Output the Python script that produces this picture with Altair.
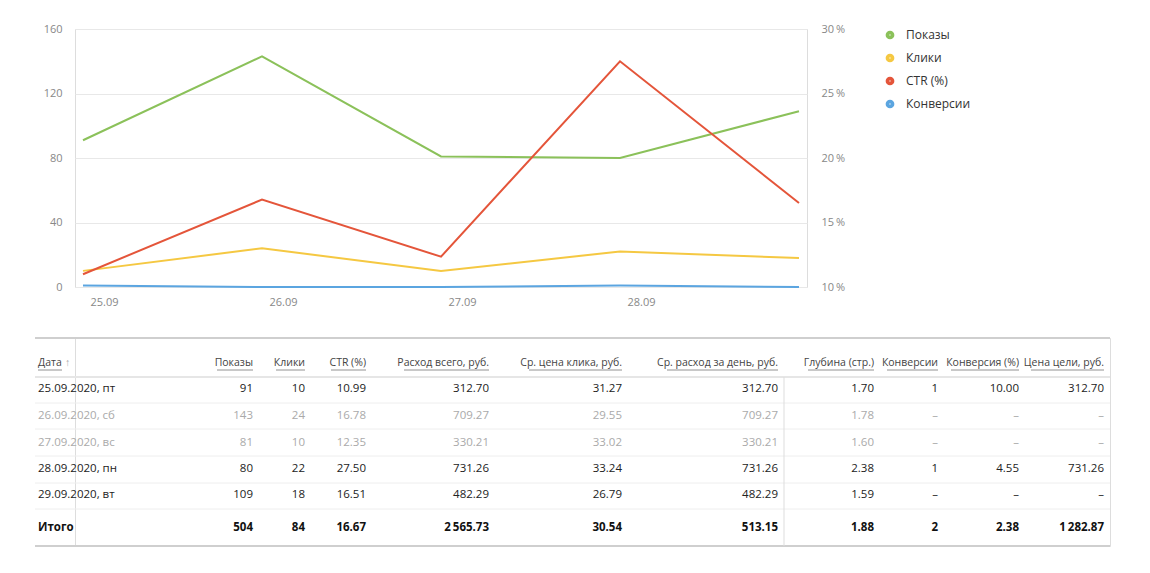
import altair as alt
import pandas as pd

# ---------------- data ----------------
days = ["25.09", "26.09", "27.09", "28.09", "29.09"]
shows = [91, 143, 81, 80, 109]
clicks = [10, 24, 10, 22, 18]
ctr = [10.99, 16.78, 12.35, 27.50, 16.51]
conversions = [1, 0, 0, 1, 0]

series_names = ["Показы", "Клики", "CTR (%)", "Конверсии"]
series_colors = ["#8bc15a", "#f5c842", "#e4553a", "#5ba5e0"]

row_dates = ["25.09.2020, пт", "26.09.2020, сб", "27.09.2020, вс",
             "28.09.2020, пн", "29.09.2020, вт"]
weekend = [False, True, True, False, False]
col_headers = ["Показы", "Клики", "CTR (%)", "Расход всего, руб.",
               "Ср. цена клика, руб.", "Ср. расход за день, руб.",
               "Глубина (стр.)", "Конверсии", "Конверсия (%)", "Цена цели, руб."]
spend = [312.70, 709.27, 330.21, 731.26, 482.29]
cpc = [31.27, 29.55, 33.02, 33.24, 26.79]
day_spend = [312.70, 709.27, 330.21, 731.26, 482.29]
depth = [1.70, 1.78, 1.60, 2.38, 1.59]
conv_table = [1, None, None, 1, None]
conv_rate = [10.00, None, None, 4.55, None]
goal_cost = [312.70, None, None, 731.26, None]
totals = [504, 84, 16.67, 2565.73, 30.54, 513.15, 1.88, 2, 2.38, 1282.87]
int_cols = [True, True, False, False, False, False, False, True, False, False]

# ---------------- layout (px, relative to table's left edge) ----------------
SHIFT = 40           # table starts this far left of the line chart's plot area
TW, TH = 1075, 208
date_x = 3
col_right = [218, 270, 331, 454, 587, 743, 839, 903, 984, 1069]
header_w = [36, 29, 35, 85, 93, 111, 66, 51, 68, 73]
header_y = 25
row_y = [51, 78, 105, 131, 157]
total_y = 190
thick_rules = [0, 208]
header_rule = 39
row_rules = [65, 91, 118, 145, 171]
vline_x = 749

FONT = "Open Sans"


def fmt(v, is_int):
    if v is None:
        return "–"
    if is_int:
        s = f"{int(v):,}"
    else:
        s = f"{v:,.2f}"
    return s.replace(",", "\u2009")


def sx(v):
    return v - SHIFT


# ---------------- top line chart ----------------
df_left = pd.DataFrame({
    "day": days * 3,
    "value": shows + clicks + conversions,
    "series": ["Показы"] * 5 + ["Клики"] * 5 + ["Конверсии"] * 5,
})
df_right = pd.DataFrame({"day": days, "ctr": ctr, "series": ["CTR (%)"] * 5})

color = alt.Color(
    "series:N",
    scale=alt.Scale(domain=series_names, range=series_colors),
    legend=alt.Legend(title=None, orient="right", symbolType="circle",
                      symbolSize=14, symbolStrokeWidth=5, labelFontSize=12,
                      labelColor="#333", rowPadding=-1, offset=37,
                      labelOffset=10, labelFont=FONT, padding=0),
)
xaxis = alt.Axis(values=days[:4], title=None, labelAngle=0, labelAlign="left",
                 labelOffset=7, domain=False, ticks=False, grid=False,
                 labelPadding=9, labelFontSize=11, labelColor="#888",
                 minExtent=25, maxExtent=25)
xenc = alt.X("day:O", sort=days, scale=alt.Scale(type="point", padding=0.0447),
             axis=xaxis)

left = alt.Chart(df_left).mark_line(strokeWidth=2).encode(
    x=xenc,
    y=alt.Y("value:Q", scale=alt.Scale(domain=[0, 160], nice=False),
            axis=alt.Axis(values=[0, 40, 80, 120, 160], title=None, grid=True,
                          domain=False, ticks=False, labelPadding=13,
                          gridColor="#e8e8e8", labelFontSize=11,
                          labelColor="#888", minExtent=40, maxExtent=40)),
    color=color,
)
right = alt.Chart(df_right).mark_line(strokeWidth=2).encode(
    x=xenc,
    y=alt.Y("ctr:Q", scale=alt.Scale(domain=[10, 30], nice=False, zero=False),
            axis=alt.Axis(orient="right", values=[10, 15, 20, 25, 30],
                          title=None, domain=False, ticks=False, grid=False,
                          labelExpr="datum.value + '\u2009%'", labelPadding=14,
                          labelFontSize=11, labelColor="#888",
                          minExtent=40, maxExtent=40)),
    color=color,
)
top = alt.layer(left, right).resolve_scale(y="independent").properties(
    width=732, height=258)

# ---------------- table ----------------
PW = TW - SHIFT
X = alt.X("x:Q", scale=alt.Scale(domain=[0, PW], nice=False, zero=False), axis=None)
X2 = alt.X2("x2:Q")
Y = alt.Y("y:Q", scale=alt.Scale(domain=[0, TH], reverse=True, nice=False, zero=False), axis=None)
Y2 = alt.Y2("y2:Q")
C = alt.Color("c:N", scale=None, legend=None)

hdr = pd.DataFrame({"x": [sx(v) for v in col_right], "y": [header_y] * 10,
                    "t": col_headers, "c": ["#444"] * 10})
hdr_date = pd.DataFrame({"x": [sx(date_x)], "y": [header_y], "t": ["Дата"], "c": ["#444"]})
hdr_arrow = pd.DataFrame({"x": [sx(date_x + 27)], "y": [header_y], "t": ["↑"], "c": ["#aaa"]})
ul = pd.DataFrame({
    "x": [sx(r - w) for r, w in zip(col_right, header_w)] + [sx(date_x)],
    "x2": [sx(r) for r in col_right] + [sx(date_x + 24)],
    "y": [header_y + 7] * 11,
})

columns = [shows, clicks, ctr, spend, cpc, day_spend, depth, conv_table, conv_rate, goal_cost]
body_rows = []
date_rows = []
for i, d in enumerate(row_dates):
    c = "#aaa" if weekend[i] else "#222"
    date_rows.append({"x": sx(date_x), "y": row_y[i], "t": d, "c": c})
    for j, col in enumerate(columns):
        body_rows.append({"x": sx(col_right[j]), "y": row_y[i],
                          "t": fmt(col[i], int_cols[j]), "c": c})
body = pd.DataFrame(body_rows)
body_dates = pd.DataFrame(date_rows)
tot = pd.DataFrame({"x": [sx(v) for v in col_right], "y": [total_y] * 10,
                    "t": [fmt(v, ic) for v, ic in zip(totals, int_cols)], "c": ["#111"] * 10})
tot_label = pd.DataFrame({"x": [sx(date_x)], "y": [total_y], "t": ["Итого"], "c": ["#111"]})

thick = pd.DataFrame({"x": [sx(0)] * 2, "x2": [sx(TW)] * 2, "y": thick_rules, "y2": thick_rules})
hrule = pd.DataFrame({"x": [sx(0)], "x2": [sx(TW)], "y": [header_rule], "y2": [header_rule]})
rrules = pd.DataFrame({"x": [sx(0)] * 5, "x2": [sx(TW)] * 5, "y": row_rules, "y2": row_rules})
vrule = pd.DataFrame({"x": [sx(vline_x)], "x2": [sx(vline_x)], "y": [header_rule], "y2": [TH]})
ul["y2"] = ul["y"]


def seg(df, col, w):
    return alt.Chart(df).mark_rule(color=col, strokeWidth=w).encode(x=X, x2=X2, y=Y, y2=Y2)


def txt(df, align, size, weight="normal"):
    return alt.Chart(df).mark_text(align=align, baseline="middle", fontSize=size,
                                   fontWeight=weight, font=FONT).encode(
        x=X, y=Y, text="t:N", color=C)


table = alt.layer(
    seg(thick, "#cfcfcf", 2),
    seg(hrule, "#e6e6e6", 2),
    seg(rrules, "#eeeeee", 1),
    seg(vrule, "#dddddd", 1),
    seg(ul, "#777777", 0.8),
    txt(hdr, "right", 10.5),
    txt(hdr_date, "left", 10.5),
    txt(hdr_arrow, "left", 10.5),
    txt(body, "right", 11.5),
    txt(body_dates, "left", 11.5),
    txt(tot, "right", 11.5, "bold"),
    txt(tot_label, "left", 11.5, "bold"),
).properties(width=PW, height=TH)

chart = alt.vconcat(top, table, spacing=23).resolve_scale(
    color="independent", x="independent", y="independent"
).resolve_legend(color="independent").properties(
    padding={"left": 25, "top": 14, "right": 5, "bottom": 5}
).configure_view(stroke=None, strokeWidth=0).configure_axis(
    grid=False, domain=False
).configure(font=FONT)

chart.save("out.html", embed_options={"renderer": "svg", "actions": False})
